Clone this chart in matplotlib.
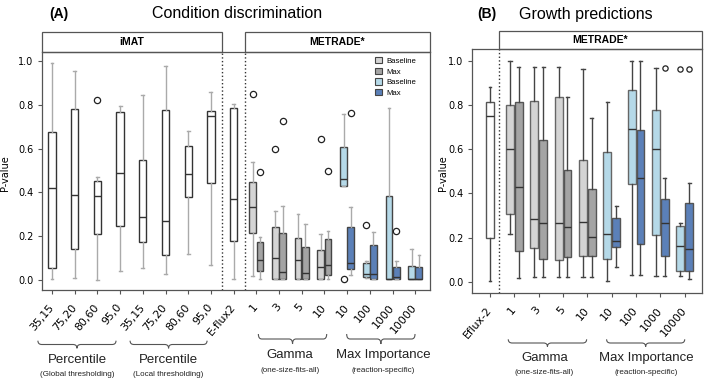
import matplotlib.pyplot as plt
from matplotlib.patches import Patch, Rectangle, PathPatch
from matplotlib.path import Path
from matplotlib.transforms import blended_transform_factory

# ---------------- panel A : condition discrimination ----------------
ticks_a = ["35,15", "75,20", "80,60", "95,0", "35,15", "75,20", "80,60", "95,0",
           "E-flux2", "1", "3", "5", "10", "10", "100", "1000", "10000"]

# rows are (whislo, q1, med, q3, whishi)
imat_a = [(0.003, 0.053, 0.421, 0.675, 0.991),
          (0.011, 0.143, 0.388, 0.780, 0.953),
          (0.000, 0.211, 0.385, 0.453, 0.468),
          (0.043, 0.248, 0.488, 0.766, 0.793),
          (0.056, 0.175, 0.289, 0.550, 0.846),
          (0.029, 0.112, 0.269, 0.774, 0.979),
          (0.120, 0.380, 0.486, 0.611, 0.679),
          (0.070, 0.441, 0.749, 0.771, 0.860),
          (0.003, 0.176, 0.371, 0.786, 0.802)]   # last one is E-flux2
imat_a_out = [[], [], [0.822], [], [], [], [], [], []]

gamma_base_a = [(0.017, 0.215, 0.333, 0.446, 0.540),
                (0.006, 0.006, 0.100, 0.242, 0.314),
                (0.003, 0.003, 0.093, 0.193, 0.303),
                (0.003, 0.003, 0.058, 0.137, 0.209)]
gamma_base_a_out = [[0.848], [0.598], [], [0.644]]
gamma_max_a = [(0.003, 0.040, 0.090, 0.174, 0.198),
               (0.002, 0.002, 0.037, 0.215, 0.339),
               (0.003, 0.003, 0.030, 0.149, 0.257),
               (0.003, 0.023, 0.068, 0.186, 0.224)]
gamma_max_a_out = [[0.492], [0.725], [], [0.499]]

mi_base_a = [(0.429, 0.429, 0.460, 0.609, 0.756),
             (0.008, 0.015, 0.027, 0.076, 0.088),
             (0.003, 0.003, 0.003, 0.385, 0.784),
             (0.003, 0.003, 0.003, 0.065, 0.140)]
mi_base_a_out = [[0.003], [0.251], [], []]
mi_max_a = [(0.023, 0.050, 0.076, 0.244, 0.332),
            (0.003, 0.003, 0.026, 0.158, 0.218),
            (0.003, 0.003, 0.012, 0.058, 0.088),
            (0.003, 0.003, 0.003, 0.058, 0.113)]
mi_max_a_out = [[0.764], [], [0.225], []]

# ---------------- panel B : growth predictions ----------------
ticks_b = ["Eflux-2", "1", "3", "5", "10", "10", "100", "1000", "10000"]
eflux_b = [(0.003, 0.197, 0.751, 0.816, 0.880)]
eflux_b_out = [[]]
gamma_base_b = [(0.215, 0.308, 0.603, 0.799, 1.000),
                (0.023, 0.153, 0.286, 0.817, 0.971),
                (0.023, 0.100, 0.267, 0.835, 0.971),
                (0.023, 0.115, 0.269, 0.550, 0.962)]
gamma_max_b = [(0.018, 0.140, 0.429, 0.814, 0.971),
               (0.023, 0.104, 0.266, 0.642, 0.971),
               (0.023, 0.110, 0.246, 0.505, 0.835),
               (0.023, 0.115, 0.204, 0.418, 0.743)]
mi_base_b = [(0.005, 0.104, 0.216, 0.590, 0.816),
             (0.029, 0.445, 0.693, 0.868, 1.000),
             (0.026, 0.213, 0.600, 0.776, 0.970),
             (0.026, 0.048, 0.163, 0.252, 0.267)]
mi_base_b_out = [[], [], [], [0.962]]
mi_max_b = [(0.068, 0.157, 0.186, 0.290, 0.341),
            (0.029, 0.172, 0.471, 0.689, 1.000),
            (0.026, 0.116, 0.267, 0.373, 0.470),
            (0.014, 0.048, 0.148, 0.355, 0.446)]
mi_max_b_out = [[], [], [0.970], [0.962]]

LGRAY, DGRAY, LBLUE, BLUE = "#d4d4d4", "#a4a4a4", "#b5d9e8", "#5b80b8"
SANS = "Liberation Sans"
W, H = 708, 386


def stats(rows, outs=None):
    outs = outs or [[] for _ in rows]
    return [dict(whislo=r[0], q1=r[1], med=r[2], q3=r[3], whishi=r[4], fliers=o)
            for r, o in zip(rows, outs)]


def boxes(ax, rows, outs, pos, width, face, edge, whisk, ms):
    ax.bxp(stats(rows, outs), positions=pos, widths=width, patch_artist=True,
           manage_ticks=False, capwidths=width * 0.4,
           boxprops=dict(facecolor=face, edgecolor=edge, linewidth=1.0),
           whiskerprops=dict(color=whisk, linewidth=1.0),
           capprops=dict(color=whisk, linewidth=1.0),
           medianprops=dict(color="#333333", linewidth=1.0),
           flierprops=dict(marker="o", markerfacecolor="none",
                           markeredgecolor="#222222", markersize=ms,
                           markeredgewidth=0.9))


def brace(ax, x0, x1, ytop, ytip):
    tr = blended_transform_factory(ax.transData, fig.transFigure)
    y0, y1 = 1 - ytop / H, 1 - ytip / H
    ym = (y0 + y1) / 2
    xc = (x0 + x1) / 2
    r = (x1 - x0) * 0.05
    verts = [(x0, y0), (x0, ym), (x0 + r, ym), (xc - r, ym), (xc, ym), (xc, y1),
             (xc, ym), (xc + r, ym), (x1 - r, ym), (x1, ym), (x1, y0)]
    codes = [Path.MOVETO, Path.CURVE3, Path.CURVE3, Path.LINETO, Path.CURVE3,
             Path.CURVE3, Path.CURVE3, Path.CURVE3, Path.LINETO, Path.CURVE3,
             Path.CURVE3]
    fig.add_artist(PathPatch(Path(verts, codes), transform=tr, fill=False,
                             lw=0.8, ec="#555555"))


def group_text(ax, x, y, ysub, big, small):
    tr = blended_transform_factory(ax.transData, fig.transFigure)
    ax.text(x, 1 - y / H, big, transform=tr, ha="center", va="center",
            fontsize=9.5, family=SANS, color="#222222", clip_on=False)
    ax.text(x, 1 - ysub / H, small, transform=tr, ha="center", va="center",
            fontsize=5.8, family=SANS, color="#222222", clip_on=False)


def strip(ax, x0, x1, h, label):
    tr = blended_transform_factory(ax.transData, ax.transAxes)
    ax.add_patch(Rectangle((x0, 1), x1 - x0, h, transform=tr, facecolor="white",
                           edgecolor="#555555", lw=0.9, clip_on=False))
    ax.text((x0 + x1) / 2, 1 + h / 2, label, transform=tr, ha="center",
            va="center", fontsize=7.5, weight="bold", family=SANS, clip_on=False)


def style(ax, ticks, xl, yl):
    ax.set_xlim(*xl)
    ax.set_ylim(*yl)
    ax.set_xticks(range(len(ticks)))
    ax.set_xticklabels(ticks, rotation=50, ha="right", va="center",
                       rotation_mode="anchor", fontsize=7.8)
    ax.set_yticks([0, 0.2, 0.4, 0.6, 0.8, 1.0])
    ax.set_yticklabels(["0.0", "0.2", "0.4", "0.6", "0.8", "1.0"], fontsize=7)
    ax.tick_params(length=3, width=0.8, color="#555555", pad=3)
    ax.tick_params(axis="x", pad=8)
    for s in ax.spines.values():
        s.set_color("#555555")
        s.set_linewidth(0.9)
    ax.set_ylabel("P-value", fontsize=7)


fig = plt.figure(figsize=(W / 100, H / 100), dpi=100)

# ---------------- panel A ----------------
axA = fig.add_axes([42 / W, 1 - 290 / H, 388 / W, 238 / H])
xlA = (-0.44, 16.65)
boxes(axA, imat_a, imat_a_out, list(range(9)), 0.32, "white", "#333333", "#aaaaaa", 4.5)
gpos = [9, 10, 11, 12]
mpos = [13, 14, 15, 16]
boxes(axA, gamma_base_a, gamma_base_a_out, [p - 0.16 for p in gpos], 0.3, LGRAY, "#444444", "#aaaaaa", 4.5)
boxes(axA, gamma_max_a, gamma_max_a_out, [p + 0.16 for p in gpos], 0.3, DGRAY, "#444444", "#aaaaaa", 4.5)
boxes(axA, mi_base_a, mi_base_a_out, [p - 0.16 for p in mpos], 0.3, LBLUE, "#444444", "#aaaaaa", 4.5)
boxes(axA, mi_max_a, mi_max_a_out, [p + 0.16 for p in mpos], 0.3, BLUE, "#444444", "#aaaaaa", 4.5)
style(axA, ticks_a, xlA, (-0.046, 1.041))
axA.yaxis.set_label_coords(-0.082, 0.49)
for xv in (7.5, 8.5):
    axA.axvline(xv, color="#333333", ls=":", lw=1.0)
strip(axA, xlA[0], 7.5, 0.084, "iMAT")
strip(axA, 8.5, xlA[1], 0.084, "METRADE*")
axA.legend(handles=[Patch(facecolor=c, edgecolor="#444444", lw=0.8, label=l)
                    for c, l in zip([LGRAY, DGRAY, LBLUE, BLUE],
                                    ["Baseline", "Max", "Baseline", "Max"])],
           loc="upper left", bbox_to_anchor=(375 / W, 1 - 57 / H),
           bbox_transform=fig.transFigure, frameon=False,
           handlelength=0.9, handleheight=0.9, handletextpad=0.5,
           labelspacing=0.35, borderpad=0, borderaxespad=0,
           prop=dict(family=SANS, size=5.6))

brace(axA, -0.62, 2.82, 340.7, 348.3)
brace(axA, 3.44, 6.83, 340.7, 348.3)
brace(axA, 9.09, 12.1, 334, 344)
brace(axA, 12.98, 15.99, 334, 344)
group_text(axA, 1.1, 360, 374, "Percentile", "(Global thresholding)")
group_text(axA, 5.11, 360, 374, "Percentile", "(Local thresholding)")
group_text(axA, 10.48, 355, 371, "Gamma", "(one-size-fits-all)")
group_text(axA, 14.6, 355, 371, "Max Importance", "(reaction-specific)")

# ---------------- panel B ----------------
axB = fig.add_axes([472 / W, 1 - 293 / H, 230 / W, 243.7 / H])
xlB = (-0.74, 8.71)
gposb = [1, 2, 3, 4]
mposb = [5, 6, 7, 8]
boxes(axB, eflux_b, eflux_b_out, [0], 0.3, "white", "#555555", "#444444", 3.8)
boxes(axB, gamma_base_b, None, [p - 0.18 for p in gposb], 0.32, LGRAY, "#666666", "#444444", 3.8)
boxes(axB, gamma_max_b, None, [p + 0.18 for p in gposb], 0.32, DGRAY, "#555555", "#444444", 3.8)
boxes(axB, mi_base_b, mi_base_b_out, [p - 0.18 for p in mposb], 0.32, LBLUE, "#666666", "#444444", 3.8)
boxes(axB, mi_max_b, mi_max_b_out, [p + 0.18 for p in mposb], 0.32, BLUE, "#555555", "#444444", 3.8)
style(axB, ticks_b, xlB, (-0.051, 1.053))
axB.yaxis.set_label_coords(-0.105, 0.49)
axB.axvline(0.37, color="#333333", ls=":", lw=1.0)
strip(axB, 0.37, xlB[1], 0.076, "METRADE*")

brace(axB, 0.75, 3.97, 339.3, 346.7)
brace(axB, 4.79, 8.0, 339.3, 346.7)
group_text(axB, 2.24, 358, 373, "Gamma", "(one-size-fits-all)")
group_text(axB, 6.42, 358, 373, "Max Importance", "(reaction-specific)")

# ---------------- titles ----------------
fig.text(49 / W, 1 - 14 / H, "(A)", fontsize=10, weight="bold", family=SANS, va="center")
fig.text(237 / W, 1 - 14 / H, "Condition discrimination", fontsize=11.5, family=SANS,
         ha="center", va="center")
fig.text(477 / W, 1 - 14 / H, "(B)", fontsize=10, weight="bold", family=SANS, va="center")
fig.text(585.5 / W, 1 - 14 / H, "Growth predictions", fontsize=11.5, family=SANS,
         ha="center", va="center")

fig.savefig("out.png", dpi=100)
